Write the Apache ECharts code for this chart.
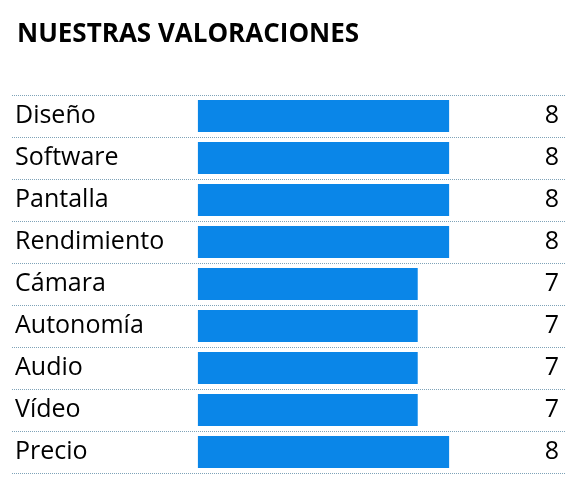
<!DOCTYPE html><html><head><meta charset="utf-8"><script src="https://cdn.jsdelivr.net/npm/echarts@6/dist/echarts.min.js"></script></head><body style="margin:0"><div id="c" style="width:585px;height:484px"></div><script>
const categories=["Diseño","Software","Pantalla","Rendimiento","Cámara","Autonomía","Audio","Vídeo","Precio"];
const values=[8,8,8,8,7,7,7,7,8];
const title="NUESTRAS VALORACIONES";
const ch=echarts.init(document.getElementById('c'));
const font='Open Sans';
ch.setOption({animation:false,
title:{text:title,left:12,top:17,textStyle:{fontFamily:font,fontSize:26,fontWeight:'bold',color:'#000'}},
grid:{left:12,right:20,top:95,bottom:11},
xAxis:{type:'value',min:-5.92,max:11.69,show:false},
yAxis:[{type:'category',data:categories,inverse:true,axisLine:{show:false},axisTick:{show:false},
 axisLabel:{inside:true,margin:3,fontFamily:font,fontSize:25,color:'#000'},
 splitLine:{show:true,lineStyle:{type:'dotted',color:'#7fa3b8'}}},
{type:'category',position:'right',data:values.map(String),inverse:true,axisLine:{show:false},axisTick:{show:false},
 axisLabel:{inside:true,margin:6,fontFamily:font,fontSize:25,color:'#000'}}],
series:[{type:'bar',data:values,barWidth:'76%',itemStyle:{color:'#0A86E8'}}]});
</script></body></html>
